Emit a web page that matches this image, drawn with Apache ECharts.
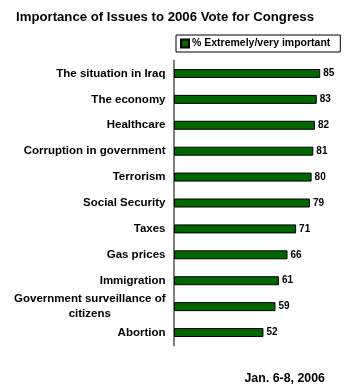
<!DOCTYPE html>
<html><head><meta charset="utf-8">
<script src="https://cdn.jsdelivr.net/npm/echarts@6/dist/echarts.min.js"></script>
<style>html,body{margin:0;padding:0;background:#fff}#c{width:346px;height:386px}</style>
</head><body><div id="c"></div>
<script>
const categories = ["The situation in Iraq","The economy","Healthcare","Corruption in government","Terrorism","Social Security","Taxes","Gas prices","Immigration","Government surveillance of\ncitizens","Abortion"];
const values = [85,83,82,81,80,79,71,66,61,59,52];
const seriesName = "% Extremely/very important";
const titleText = "Importance of Issues to 2006 Vote for Congress";
const dateText = "Jan. 6-8, 2006";

const FONT = '"Liberation Sans", Arial, sans-serif';
const chart = echarts.init(document.getElementById('c'), null, {renderer:'canvas'});
chart.setOption({
  animation:false,
  backgroundColor:'#fff',
  title:[
    {text:titleText,left:11,top:6,textStyle:{fontFamily:FONT,fontWeight:'bold',fontSize:13.2,color:'#000'}},
    {text:dateText,right:16,top:368,textStyle:{fontFamily:FONT,fontWeight:'bold',fontSize:12.4,color:'#000'}}
  ],
  legend:{
    data:[seriesName],left:176,top:35,orient:'horizontal',
    borderColor:'#000',borderWidth:1,padding:[3,10,3,4],
    icon:'rect',itemWidth:8,itemHeight:8,itemGap:4,
    textStyle:{fontFamily:FONT,fontWeight:'bold',fontSize:10.5,color:'#000',padding:[0,0,0,-2]}
  },
  grid:{left:174,top:60.5,height:285,width:174,containLabel:false},
  xAxis:{type:'value',min:0,max:100,show:false},
  yAxis:{
    type:'category',data:categories,inverse:true,offset:1.5,
    axisLine:{show:true,lineStyle:{color:'#808080',width:2}},
    axisTick:{show:false},
    axisLabel:{
      margin:7,color:'#000',fontFamily:FONT,fontWeight:'bold',fontSize:11.5,lineHeight:15,
      formatter:function(v){
        if(v.indexOf('\n')>=0){const p=v.split('\n');return '{a|'+p[0]+'}\n{b|'+p[1]+'}';}
        return v;
      },
      rich:{
        a:{fontFamily:FONT,fontWeight:'bold',fontSize:11.5,color:'#000',lineHeight:15},
        b:{fontFamily:FONT,fontWeight:'bold',fontSize:11.5,color:'#000',lineHeight:15,width:150,align:'center'}
      }
    }
  },
  series:[{
    name:seriesName,type:'bar',data:values,barWidth:9,
    itemStyle:{color:'#006600',borderColor:'#000',borderWidth:1},
    label:{show:true,position:'right',distance:3,color:'#000',fontFamily:FONT,fontWeight:'bold',fontSize:10}
  }]
});
</script></body></html>
